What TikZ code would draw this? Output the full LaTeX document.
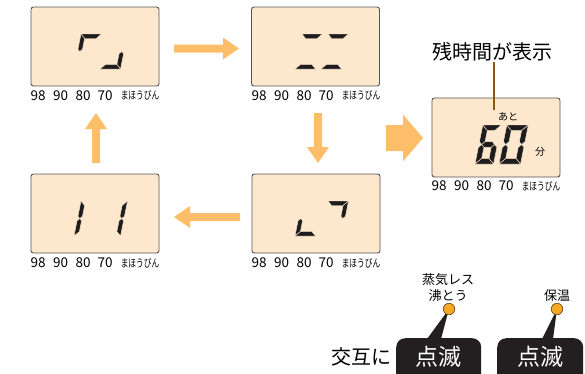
\documentclass[tikz,border=0pt]{standalone}
\usepackage{fontspec}
\setmainfont{Noto Sans CJK JP}
\usetikzlibrary{calc}
\definecolor{lcdbg}{RGB}{253,232,206}
\definecolor{lcdline}{RGB}{85,85,85}
\definecolor{arrowc}{RGB}{253,190,105}
\definecolor{brownc}{RGB}{138,90,20}
\definecolor{dotc}{RGB}{247,168,35}
\definecolor{dotline}{RGB}{90,60,20}
\definecolor{cboxc}{RGB}{35,31,32}
\definecolor{segblack}{RGB}{30,28,28}

\def\sW{20}\def\sH{35}\def\sT{3.8}\def\sM{17.5}
\newcommand\sega{\fill[segfill] (0,\sH) -- (\sW,\sH) -- ({\sW-\sT},{\sH-\sT}) -- (\sT,{\sH-\sT}) -- cycle;}
\newcommand\segb{\fill[segfill] (\sW,\sH) -- (\sW,{\sM+\sT/2}) -- ({\sW-\sT/2},\sM) -- ({\sW-\sT},{\sM+\sT/2}) -- ({\sW-\sT},{\sH-\sT}) -- cycle;}
\newcommand\segc{\fill[segfill] (\sW,0) -- (\sW,{\sM-\sT/2}) -- ({\sW-\sT/2},\sM) -- ({\sW-\sT},{\sM-\sT/2}) -- ({\sW-\sT},\sT) -- cycle;}
\newcommand\segd{\fill[segfill] (0,0) -- (\sW,0) -- ({\sW-\sT},\sT) -- (\sT,\sT) -- cycle;}
\newcommand\sege{\fill[segfill] (0,0) -- (0,{\sM-\sT/2}) -- ({\sT/2},\sM) -- (\sT,{\sM-\sT/2}) -- (\sT,\sT) -- cycle;}
\newcommand\segf{\fill[segfill] (0,\sH) -- (0,{\sM+\sT/2}) -- ({\sT/2},\sM) -- (\sT,{\sM+\sT/2}) -- (\sT,{\sH-\sT}) -- cycle;}
\newcommand\segg{\fill[segfill] ({\sT/2},\sM) -- (\sT,{\sM+\sT/2}) -- ({\sW-\sT},{\sM+\sT/2}) -- ({\sW-\sT/2},\sM) -- ({\sW-\sT},{\sM-\sT/2}) -- (\sT,{\sM-\sT/2}) -- cycle;}

\newcommand\lcddigit[7]{%
  \begin{scope}[shift={(#1,#2)},yscale=-1,xslant=-#6]
    \def\sW{#3}\def\sH{#4}\def\sT{#5}\pgfmathsetmacro\sM{#4/2}
    \foreach \s in {#7}{\csname seg\s\endcsname}
  \end{scope}}

\newcommand\fatarrow[7]{%
  \begin{scope}[shift={(#1,#2)},rotate=#3]
    \fill[arrowc] (0,{-#5/2}) -- ({#4-#7},{-#5/2}) -- ({#4-#7},{-#6/2}) -- (#4,0)
      -- ({#4-#7},{#6/2}) -- ({#4-#7},{#5/2}) -- (0,{#5/2}) -- cycle;
  \end{scope}}

\newcommand\scalelbl[3]{%
  \node[lbl] (#1n1) at (#2+7,#3) {98};
  \node[lbl] (#1n2) at (#2+29.5,#3) {90};
  \node[lbl] (#1n3) at (#2+52,#3) {80};
  \node[lbl] (#1n4) at (#2+74,#3) {70};
  \node[lbl] (#1n5) at (#2+109,#3) {\scalebox{0.7}[1]{\fontsize{11}{11}\selectfont まほうびん}};}

\tikzset{
  lcd/.style={draw=lcdline, fill=lcdbg, line width=0.9pt, rounded corners=2.5pt,
    minimum width=128pt, minimum height=79pt, inner sep=0pt},
  segfill/.style={fill=segblack, draw=lcdbg, line width=0.45pt},
  lbl/.style={inner sep=0pt, font=\fontsize{13.5}{13.5}\selectfont},
  cbox/.style={fill=cboxc, rounded corners=9pt, inner sep=0pt},
  cbtxt/.style={text=white, inner sep=0pt, font=\fontsize{23}{23}\selectfont},
  dot/.style={circle, fill=dotc, draw=dotline, line width=0.6pt, minimum size=11.5pt, inner sep=0pt},
  smalltxt/.style={inner sep=0pt, font=\fontsize{13}{13}\selectfont},
}

\begin{document}
\begin{tikzpicture}[x=1pt,y=-1pt]
\useasboundingbox (0,0) rectangle (585,373);
\clip (0,0) rectangle (585,373);

% LCD boxes
\node[lcd] (b1) at (95,46.5) {};
\node[lcd] (b2) at (315.5,46.5) {};
\node[lcd] (b3) at (316,213.5) {};
\node[lcd] (b4) at (95,213.5) {};
\node[lcd] (b5) at (496,137.5) {};

% segments (small digits)
\lcddigit{74}{69}{20.5}{35}{4.5}{0.2}{a,f}
\lcddigit{100}{69}{20.5}{35}{4.5}{0.2}{c,d}
\lcddigit{295}{69}{20.5}{35}{4.5}{0.2}{a,d}
\lcddigit{321}{69}{20.5}{35}{4.5}{0.2}{a,d}
\lcddigit{295}{236}{20.5}{35}{4.5}{0.2}{e,d}
\lcddigit{321}{236}{20.5}{35}{4.5}{0.2}{a,b}
\lcddigit{74}{236}{20.5}{35}{4.5}{0.2}{e,f}
\lcddigit{100}{236}{20.5}{35}{4.5}{0.2}{b,c}
% big 60
\lcddigit{475}{164}{18.5}{39}{5.6}{0.2}{a,f,g,e,d,c}
\lcddigit{499}{164}{21.5}{39}{5.6}{0.2}{a,b,c,d,e,f}
\node[inner sep=0pt, font=\fontsize{10}{10}\selectfont] (ato) at (508,117) {あと};
\node[inner sep=0pt, font=\fontsize{10}{10}\selectfont] (fun) at (540,152) {分};

% scale labels
\scalelbl{l1}{31}{95.5}
\scalelbl{l2}{252}{95.5}
\scalelbl{l3}{252}{263}
\scalelbl{l4}{31}{263}
\scalelbl{l5}{432}{186}

% arrows
\fatarrow{174}{48.5}{0}{65}{8}{22}{16}
\fatarrow{318}{113}{-90}{50}{8}{22}{16}
\fatarrow{240}{217}{180}{66}{8}{22}{16}
\fatarrow{96}{163}{90}{50}{8}{22}{16}
\fatarrow{386}{138}{0}{37}{26}{47}{20}

% remaining time label
\node[inner sep=0pt, font=\fontsize{20}{20}\selectfont] (ttl) at (492,52) {残時間が表示};
\coordinate (lt) at (494,110);
\draw[brownc, line width=2pt] (lt |- ttl.south) -- (lt);

% callouts
\node[cbox, minimum width=85pt, minimum height=50pt, anchor=north west] (ka) at (396,338) {};
\node[cbox, minimum width=86pt, minimum height=50pt, anchor=north west] (kb) at (497,338) {};
\node[cbtxt] (kat) at (438.5,357) {点滅};
\node[cbtxt] (kbt) at (540,357) {点滅};
\coordinate (c1) at (449,309);
\coordinate (c2) at (557,309);
\fill[cboxc] (c1) -- ($(ka.north west)+(31,1)$) -- ($(ka.north west)+(45,1)$) -- cycle;
\fill[cboxc] (c2) -- ($(kb.north west)+(45,1)$) -- ($(kb.north west)+(56,1)$) -- cycle;
\node[dot] (d1) at (c1) {};
\node[dot] (d2) at (c2) {};
\node[smalltxt] (s1) at (448,280) {蒸気レス};
\node[smalltxt] (s2) at (448,296) {沸とう};
\node[smalltxt] (s3) at (557,296) {保温};
\node[inner sep=0pt, font=\fontsize{20}{20}\selectfont] (alt) at (361,357) {交互に};
\end{tikzpicture}
\end{document}
